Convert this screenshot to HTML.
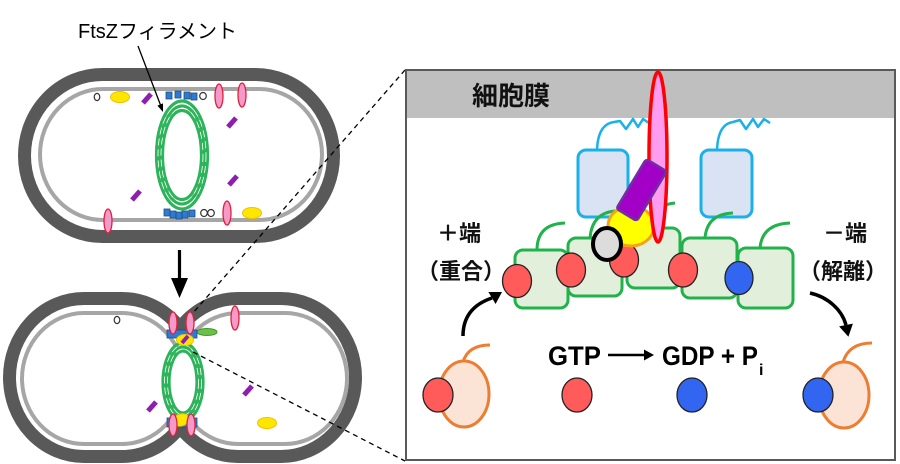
<!DOCTYPE html>
<html><head><meta charset="utf-8">
<style>
html,body{margin:0;padding:0;background:#fff;}
svg{display:block;}
text{font-family:"Liberation Sans","Noto Sans CJK JP",sans-serif;}
</style></head><body>
<svg width="900" height="464" viewBox="0 0 900 464" xmlns="http://www.w3.org/2000/svg">
<rect width="900" height="464" fill="#fff"/>

<!-- ===== Top cell ===== -->
<rect x="24.5" y="74.5" width="309" height="162" rx="78" ry="81" fill="#fff" stroke="#595959" stroke-width="13"/>
<rect x="40" y="89" width="282" height="131" rx="63" ry="65.5" fill="none" stroke="#a6a6a6" stroke-width="4"/>

<!-- ring -->
<g fill="none" stroke="#2db35a" stroke-width="3.2">
<ellipse cx="182" cy="155" rx="25.5" ry="54"/>
<ellipse cx="182" cy="155" rx="22.5" ry="49"/>
<ellipse cx="182" cy="155" rx="19.5" ry="44.5"/>
</g>
<g fill="none" stroke="#fff" stroke-width="0.8" stroke-dasharray="7 4">
<ellipse cx="182" cy="155" rx="24" ry="51.5"/>
<ellipse cx="182" cy="155" rx="21" ry="47"/>
</g>

<!-- top cell proteins -->
<g fill="#2e7bd6" stroke="#1f4e79" stroke-width="0.8">
<rect x="166" y="92" width="6" height="7"/>
<rect x="175" y="91" width="6" height="7"/>
<rect x="184" y="92" width="6" height="7"/>
<rect x="191" y="93" width="6" height="7"/>
<rect x="164" y="209" width="6" height="7"/>
<rect x="170" y="211" width="6" height="7"/>
<rect x="176" y="212" width="6" height="7"/>
<rect x="182" y="211" width="6" height="7"/>
<rect x="189" y="210" width="6" height="7"/>
</g>
<g fill="#fff" stroke="#333" stroke-width="1.2">
<ellipse cx="97" cy="97" rx="2.8" ry="3.6"/>
<ellipse cx="203" cy="96" rx="3.3" ry="3.5"/>
<ellipse cx="204" cy="213" rx="3.3" ry="3.5"/>
<ellipse cx="211" cy="213" rx="3.3" ry="3.5"/>
</g>
<g fill="#ffe600" stroke="#f0c000" stroke-width="1">
<ellipse cx="120" cy="97" rx="9.5" ry="5.5"/>
<ellipse cx="252" cy="213" rx="9.5" ry="5.5"/>
</g>
<g stroke="#8e1fae" stroke-width="5" stroke-linecap="butt">
<line x1="143" y1="103" x2="151" y2="94"/>
<line x1="228" y1="127" x2="236" y2="118"/>
<line x1="229" y1="185" x2="237" y2="176"/>
<line x1="132" y1="200" x2="140" y2="191"/>
</g>
<g fill="#f49ac8" stroke="#e0203c" stroke-width="1.3">
<ellipse cx="219" cy="96" rx="4" ry="12"/>
<ellipse cx="242" cy="95" rx="4" ry="12"/>
<ellipse cx="108" cy="221" rx="4" ry="12"/>
<ellipse cx="227" cy="213" rx="4" ry="12"/>
</g>

<!-- label -->
<text x="78" y="38" font-size="20" fill="#000">FtsZフィラメント</text>
<line x1="138" y1="46" x2="160.5" y2="105" stroke="#000" stroke-width="1.3"/>
<polygon points="163,112 163,103.4 157.4,105.6" fill="#000"/>

<!-- down arrow -->
<line x1="179.5" y1="250" x2="179.5" y2="280" stroke="#000" stroke-width="3.2"/>
<polygon points="171,278 188,278 179.5,298" fill="#000"/>

<!-- ===== Lower cell ===== -->
<rect x="16" y="305" width="174" height="145" rx="68" ry="72.5" fill="none" stroke="#595959" stroke-width="26"/>
<rect x="170" y="305" width="179" height="145" rx="68" ry="72.5" fill="none" stroke="#595959" stroke-width="26"/>
<rect x="16" y="305" width="174" height="145" rx="68" ry="72.5" fill="#fff"/>
<rect x="170" y="305" width="179" height="145" rx="68" ry="72.5" fill="#fff"/>
<rect x="24" y="315" width="158" height="127" rx="60" ry="63.5" fill="none" stroke="#a6a6a6" stroke-width="8"/>
<rect x="178" y="315" width="167" height="127" rx="60" ry="63.5" fill="none" stroke="#a6a6a6" stroke-width="8"/>
<rect x="24" y="315" width="158" height="127" rx="60" ry="63.5" fill="#fff"/>
<rect x="178" y="315" width="167" height="127" rx="60" ry="63.5" fill="#fff"/>
<rect x="170" y="348" width="24" height="64" fill="#fff"/>

<!-- lower cell other proteins -->
<ellipse cx="117" cy="320" rx="2.8" ry="3.6" fill="#fff" stroke="#333" stroke-width="1.2"/>
<ellipse cx="267" cy="423" rx="9.5" ry="5.5" fill="#ffe600" stroke="#f0c000" stroke-width="1"/>
<g stroke="#8e1fae" stroke-width="5">
<line x1="244" y1="395" x2="252" y2="386"/>
<line x1="148" y1="411" x2="156" y2="402"/>
</g>
<ellipse cx="235" cy="318" rx="4" ry="12" fill="#f49ac8" stroke="#e0203c" stroke-width="1.3"/>

<!-- lower ring -->
<g fill="none" stroke="#2db35a" stroke-width="3.2">
<ellipse cx="183" cy="382" rx="20" ry="39"/>
<ellipse cx="183" cy="382" rx="17" ry="35"/>
<ellipse cx="183" cy="382" rx="14" ry="31"/>
</g>
<g fill="none" stroke="#fff" stroke-width="0.8" stroke-dasharray="7 4">
<ellipse cx="183" cy="382" rx="18.5" ry="37"/>
<ellipse cx="183" cy="382" rx="15.5" ry="33"/>
</g>

<!-- lower pinch proteins -->
<ellipse cx="207" cy="332" rx="10" ry="3.5" fill="#6cc04a" stroke="#3f9a2a" stroke-width="1"/>
<rect x="167" y="330" width="30" height="8" fill="#2e7bd6" stroke="#1f4e79" stroke-width="0.8"/>
<rect x="167" y="418" width="30" height="9" fill="#2e7bd6" stroke="#1f4e79" stroke-width="0.8"/>
<ellipse cx="185" cy="340" rx="8.5" ry="5.5" fill="#ffe600" stroke="#f0c000" stroke-width="1"/>
<ellipse cx="181" cy="420" rx="8" ry="6" fill="#ffe600" stroke="#f0c000" stroke-width="1" transform="rotate(-20 181 420)"/>
<line x1="182" y1="343" x2="188" y2="336" stroke="#8e1fae" stroke-width="4"/>
<g fill="#f49ac8" stroke="#e0203c" stroke-width="1.3">
<ellipse cx="173" cy="323" rx="4" ry="11"/>
<ellipse cx="190" cy="323" rx="4" ry="11"/>
<ellipse cx="173" cy="425" rx="4" ry="11"/>
<ellipse cx="191" cy="425" rx="4" ry="11"/>
</g>

<!-- dashed zoom lines -->
<g stroke="#000" stroke-width="1.3" stroke-dasharray="5 4" fill="none">
<line x1="405" y1="70" x2="193" y2="313"/>
<line x1="193" y1="352" x2="405" y2="461"/>
</g>

<!-- ===== Right box ===== -->
<rect x="406" y="70" width="489" height="390" fill="#fff" stroke="#595959" stroke-width="2"/>
<rect x="407" y="71" width="487" height="47" fill="#bfbfbf"/>
<text x="472" y="105" font-size="26" font-weight="bold" fill="#111">細胞膜</text>

<!-- squiggles -->
<g fill="none" stroke="#1ab0ea" stroke-width="2.5" stroke-linejoin="round">
<path d="M597 150 Q598 124 614 122 L620 121 L626 129 L633 119 L638 127 L643 119 L649 123"/>
<path d="M717 150 Q718 124 733 122 L740 120 L746 129 L753 119 L758 127 L764 119 L770 123"/>
</g>
<!-- blue boxes -->
<rect x="578" y="150" width="50" height="67" rx="8" fill="#dae3f3" stroke="#1ab0ea" stroke-width="3"/>
<rect x="701" y="150" width="51" height="67" rx="8" fill="#dae3f3" stroke="#1ab0ea" stroke-width="3"/>

<!-- hooks -->
<g fill="none" stroke="#22b24c" stroke-width="3">
<path d="M537 250 Q537 224 565 223"/>
<path d="M590 238 Q592 213 615 211"/>
<path d="M650 228 Q652 205 675 203"/>
<path d="M705 238 Q707 214 733 213"/>
<path d="M760 248 Q762 224 790 223"/>
</g>
<!-- FtsZ subunits -->
<g fill="#e2efda" stroke="#22b24c" stroke-width="3">
<rect x="627" y="228" width="53" height="60" rx="8"/>
<rect x="515" y="250" width="53" height="58" rx="8"/>
<rect x="568" y="238" width="54" height="58" rx="8"/>
<rect x="682" y="238" width="55" height="60" rx="8"/>
<rect x="738" y="248" width="55" height="60" rx="8"/>
</g>
<g stroke="#222" stroke-width="1.3">
<ellipse cx="517" cy="281" rx="14.5" ry="16.5" fill="#ff5b5b"/>
<ellipse cx="571" cy="270" rx="14.5" ry="17" fill="#ff5b5b"/>
<ellipse cx="624" cy="260" rx="14.5" ry="17" fill="#ff5b5b"/>
<ellipse cx="683" cy="270" rx="14.5" ry="17" fill="#ff5b5b"/>
<ellipse cx="739" cy="278" rx="14" ry="16.5" fill="#3366f0"/>
</g>
<ellipse cx="631" cy="226" rx="23" ry="20" fill="#ffff00" stroke="#f7a21b" stroke-width="3"/>
<ellipse cx="607" cy="244" rx="14" ry="16" fill="#dcdcdc" stroke="#000" stroke-width="4"/>
<ellipse cx="658" cy="157" rx="9" ry="85" fill="#ff9cf0" stroke="#ff0000" stroke-width="3.5"/>
<rect x="-12" y="-29" width="24" height="58" rx="3" fill="#a200c6" stroke="#7030a0" stroke-width="2.5" transform="translate(641.5,190) rotate(31)"/>

<!-- end labels -->
<text x="459" y="241" font-size="22" font-weight="bold" text-anchor="middle" fill="#111">＋端</text>
<text x="461" y="279" font-size="22" font-weight="bold" text-anchor="middle" fill="#111">（重合）</text>
<text x="845" y="241" font-size="22" font-weight="bold" text-anchor="middle" fill="#111">－端</text>
<text x="843" y="279" font-size="22" font-weight="bold" text-anchor="middle" fill="#111">（解離）</text>

<!-- curved arrows -->
<path d="M463 336 C463 316 474 304 492 298" fill="none" stroke="#000" stroke-width="3.5"/>
<polygon points="502,292 495.6,304 488.4,292" fill="#000"/>
<path d="M810 293 C828 297 842 310 846 325" fill="none" stroke="#000" stroke-width="3.5"/>
<polygon points="848.4,336.8 852.9,323.6 839.1,326.4" fill="#000"/>

<!-- GTP equation -->
<text x="548" y="365" font-size="27" font-weight="bold" fill="#000" textLength="53" lengthAdjust="spacingAndGlyphs">GTP</text>
<line x1="608" y1="355" x2="646" y2="355" stroke="#000" stroke-width="2.5"/>
<polygon points="644,349.5 654,355 644,360.5" fill="#000"/>
<text x="662" y="365" font-size="27" font-weight="bold" fill="#000" textLength="96" lengthAdjust="spacingAndGlyphs">GDP + P</text>
<text x="759" y="375" font-size="16" font-weight="bold" fill="#000">i</text>

<!-- free subunits -->
<path d="M463 362 Q468 345 490 345" fill="none" stroke="#ed7d31" stroke-width="3"/>
<ellipse cx="464" cy="394" rx="25" ry="33" fill="#fbe4d5" stroke="#ed7d31" stroke-width="3"/>
<ellipse cx="438" cy="395" rx="15" ry="17" fill="#ff5b5b" stroke="#222" stroke-width="1.3"/>
<ellipse cx="577" cy="395" rx="15" ry="17" fill="#ff5b5b" stroke="#222" stroke-width="1.3"/>
<ellipse cx="692" cy="395" rx="15" ry="17" fill="#3366f0" stroke="#222" stroke-width="1.3"/>
<path d="M843 362 Q849 343 872 343" fill="none" stroke="#ed7d31" stroke-width="3"/>
<ellipse cx="844" cy="395" rx="25" ry="33" fill="#fbe4d5" stroke="#ed7d31" stroke-width="3"/>
<ellipse cx="818" cy="395" rx="15" ry="17" fill="#3366f0" stroke="#222" stroke-width="1.3"/>
</svg>
</body></html>
